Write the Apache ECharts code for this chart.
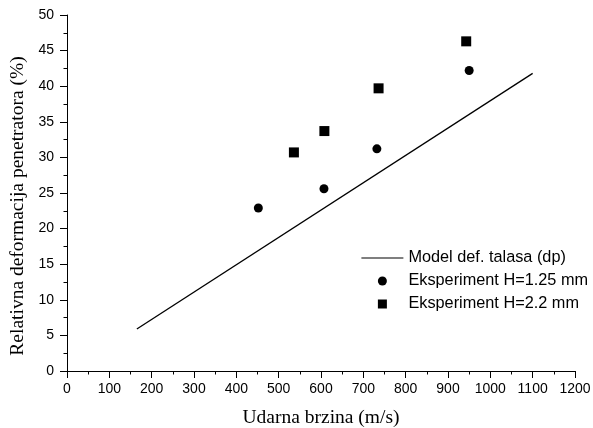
<!DOCTYPE html>
<html>
<head>
<meta charset="utf-8">
<script src="https://cdn.jsdelivr.net/npm/echarts@6/dist/echarts.min.js"></script>
<style>
  html, body { margin: 0; padding: 0; background: #fff; }
  #chart { width: 593px; height: 428px; }
</style>
</head>
<body>
<div id="chart"></div>
<script>
// model line (dp)
const modelLine = [[165, 5.9], [1100, 41.8]]
// experiment H=1.25 mm
const expSmall = [[452, 22.9], [607, 25.6], [732, 31.2], [950, 42.2]]
// experiment H=2.2 mm
const expLarge = [[536, 30.7], [608, 33.7], [736, 39.7], [943, 46.3]]

const seriesNames = ['Model def. talasa (dp)', 'Eksperiment H=1.25 mm', 'Eksperiment H=2.2 mm']

const chart = echarts.init(document.getElementById('chart'))

const axisCommon = {
  axisLine: { lineStyle: { color: '#000', width: 1 } },
  axisTick: { show: true, length: 7, lineStyle: { color: '#000' } },
  minorTick: { show: true, splitNumber: 2, length: 3.5, lineStyle: { color: '#000' } },
  splitLine: { show: false },
  axisLabel: { color: '#000', fontFamily: 'Liberation Sans', fontSize: 14, formatter: v => String(v) },
  nameTextStyle: { color: '#000', fontFamily: 'Liberation Serif', fontSize: 19.5 }
}

chart.setOption({
  animation: false,
  backgroundColor: '#fff',
  grid: { left: 67, right: 18, top: 15, bottom: 57, outerBoundsMode: 'none' },
  legend: {
    orient: 'vertical',
    right: 0,
    top: 245,
    itemGap: 7,
    itemWidth: 42,
    itemHeight: 9,
    textStyle: { color: '#000', fontFamily: 'Liberation Sans', fontSize: 16.3, lineHeight: 16 },
    data: [
      { name: seriesNames[0], icon: 'path://M0,0 L42,0 L42,1 L0,1 Z' },
      { name: seriesNames[1], icon: 'circle' },
      { name: seriesNames[2], icon: 'path://M0,0 L10,0 L10,10 L0,10 Z' }
    ]
  },
  xAxis: Object.assign({}, axisCommon, {
    type: 'value',
    min: 0,
    max: 1200,
    interval: 100,
    name: 'Udarna brzina (m/s)',
    nameLocation: 'middle',
    nameGap: 37,
    axisLabel: Object.assign({}, axisCommon.axisLabel, { margin: 11 })
  }),
  yAxis: Object.assign({}, axisCommon, {
    type: 'value',
    min: 0,
    max: 50,
    interval: 5,
    name: 'Relativna deformacija penetratora (%)',
    nameLocation: 'middle',
    nameGap: 37,
    nameTextStyle: Object.assign({}, axisCommon.nameTextStyle, { padding: [0, 26, 0, 0] }),
    axisLabel: Object.assign({}, axisCommon.axisLabel, { margin: 13 })
  }),
  series: [
    {
      name: seriesNames[0],
      type: 'line',
      data: modelLine,
      showSymbol: false,
      symbol: 'none',
      lineStyle: { color: '#000', width: 1.3 },
      itemStyle: { color: '#000' }
    },
    {
      name: seriesNames[1],
      type: 'scatter',
      data: expSmall,
      symbol: 'circle',
      symbolSize: 9,
      itemStyle: { color: '#000', opacity: 1 }
    },
    {
      name: seriesNames[2],
      type: 'scatter',
      data: expLarge,
      symbol: 'rect',
      symbolSize: 10,
      itemStyle: { color: '#000', opacity: 1 }
    }
  ]
})
</script>
</body>
</html>
